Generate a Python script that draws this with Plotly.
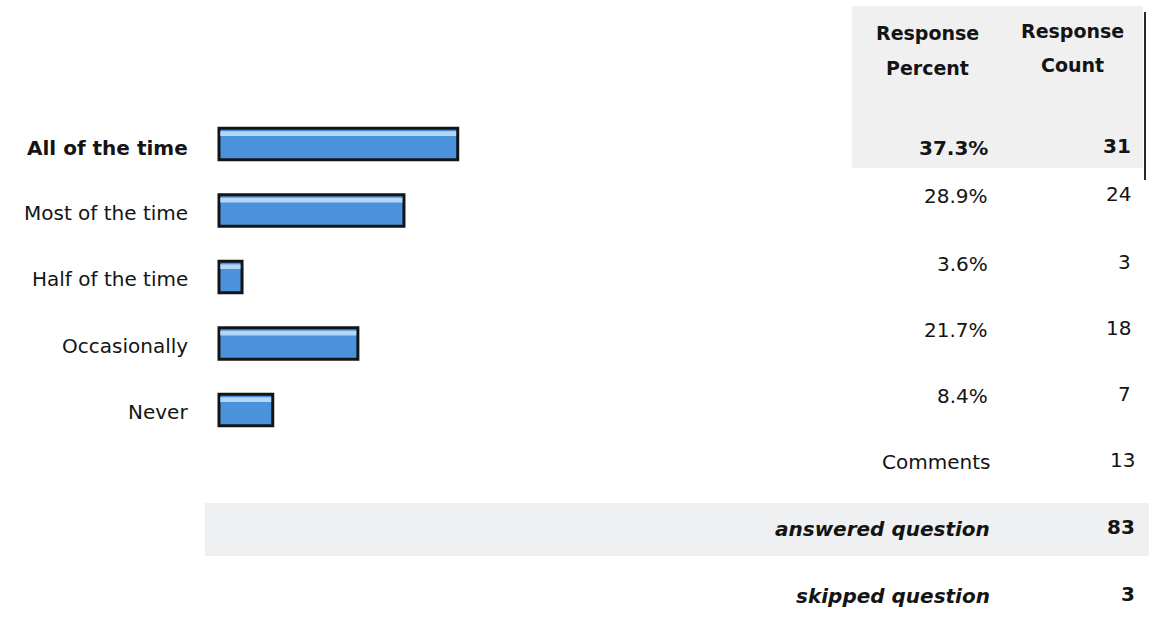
import plotly.graph_objects as go

# Survey answer options and their results
categories = ["All of the time", "Most of the time", "Half of the time", "Occasionally", "Never"]
percents = [37.3, 28.9, 3.6, 21.7, 8.4]
counts = [31, 24, 3, 18, 7]
percent_labels = ["37.3%", "28.9%", "3.6%", "21.7%", "8.4%"]

# Summary rows below the answer options
summary_labels = ["Comments", "answered question", "skipped question"]
summary_counts = [13, 83, 3]

# Column headers, one entry per text line
header_percent = ["Response", "Percent"]
header_count = ["Response", "Count"]

W, H = 1149, 623
FONT = "DejaVu Sans, Liberation Sans, Arial, sans-serif"
INK = "#141414"

rows = list(range(len(categories)))

fig = go.Figure()

# main bars
fig.add_trace(go.Bar(
    x=percents, y=rows, orientation="h", width=0.47,
    marker=dict(color="#4a93dc", line=dict(color=INK, width=3)),
    hoverinfo="skip", showlegend=False,
))
# light sheen along the top of each bar
fig.add_trace(go.Bar(
    x=[p - 0.45 for p in percents], y=rows, orientation="h", width=0.07,
    offset=-0.19, base=0.2,
    marker=dict(color="#b3d7f4", line=dict(width=0)),
    hoverinfo="skip", showlegend=False,
))

px_per_unit = 66.5
first_row_px = 144
x_scale = 6.4
x_origin_px = 219

fig.update_layout(
    width=W, height=H,
    margin=dict(l=0, r=0, t=0, b=0),
    paper_bgcolor="white", plot_bgcolor="rgba(0,0,0,0)",
    barmode="overlay",
    xaxis=dict(visible=False, range=[-x_origin_px / x_scale, (W - x_origin_px) / x_scale], fixedrange=True),
    yaxis=dict(visible=False,
               range=[(H - first_row_px) / px_per_unit, -first_row_px / px_per_unit],
               fixedrange=True),
    showlegend=False,
)


def px(x):
    return x / W


def py(y):
    return 1 - y / H


# shaded header block and answered-question band
fig.add_shape(type="rect", xref="paper", yref="paper", layer="below",
              x0=px(852), x1=px(1143), y0=py(168), y1=py(6),
              fillcolor="#f0f0f1", line=dict(width=0))
fig.add_shape(type="rect", xref="paper", yref="paper", layer="below",
              x0=px(205), x1=px(W), y0=py(556), y1=py(503),
              fillcolor="#eff0f2", line=dict(width=0))
fig.add_shape(type="line", xref="paper", yref="paper",
              x0=px(1145), x1=px(1145), y0=py(180), y1=py(12),
              line=dict(color="#2a2a2a", width=2))


def label(x, y, text, anchor="right", size=20, bold=False, italic=False):
    t = text
    if bold:
        t = f"<b>{t}</b>"
    if italic:
        t = f"<i>{t}</i>"
    fig.add_annotation(x=px(x), y=py(y), xref="paper", yref="paper",
                       text=t, showarrow=False, xanchor=anchor, yanchor="middle",
                       font=dict(family=FONT, size=size, color=INK), align="center")


# column headers
for line, y in zip(header_percent, [33, 68]):
    label(927, y, line, anchor="center", size=19, bold=True)
for line, y in zip(header_count, [31, 65]):
    label(1072, y, line, anchor="center", size=19, bold=True)

# category labels beside the bars
label_y = [148, 213, 279, 346, 412]
for i, cat in enumerate(categories):
    label(190, label_y[i], cat, size=20, bold=(i == 0))

# percent and count columns
table_y = [148, 196, 264, 330, 396]
for i in rows:
    label(990, table_y[i], percent_labels[i], size=20, bold=(i == 0))
    label(1133, table_y[i] - 2, str(counts[i]), size=20, bold=(i == 0))

summary_y = [462, 529, 596]
for i, s in enumerate(summary_labels):
    emph = s != "Comments"
    label(992, summary_y[i], s, size=20, bold=emph, italic=emph)
    label(1137, summary_y[i] - 2, str(summary_counts[i]), size=20, bold=emph)

fig.write_html("out.html")
